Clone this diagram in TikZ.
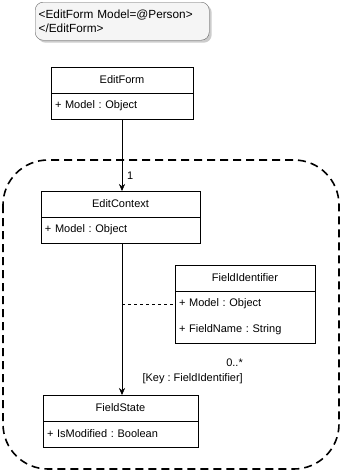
\documentclass[tikz,border=0pt]{standalone}
\usepackage{fontspec}
\setmainfont{Liberation Sans}
\usetikzlibrary{arrows.meta,positioning,shadows}
\definecolor{notefill}{HTML}{F5F5F5}
\definecolor{notedraw}{HTML}{666666}
\frenchspacing

\begin{document}
\begin{tikzpicture}[x=1pt,y=-1pt,>={Stealth[length=7pt,width=6pt]},font=\fontsize{11}{13}\selectfont,
 note/.style={draw=notedraw,fill=notefill,rounded corners=8pt,minimum width=174pt,minimum height=38pt,text width=167pt,inner xsep=3.5pt,align=left,anchor=north west,font=\fontsize{11.8}{14}\selectfont,drop shadow={shadow xshift=2.5pt,shadow yshift=-2.5pt,fill=black!40}},
 classhead/.style={draw,fill=white,minimum height=26pt,inner sep=0pt,outer sep=0pt,anchor=north west},
 classrow/.style={minimum height=26pt,inner xsep=4pt,inner ysep=0pt,outer sep=0pt,align=left},
 scopebox/.style={line width=1.6pt,dash pattern=on 8pt off 5pt,rounded corners=45pt},
 lbl/.style={inner sep=0pt,font=\fontsize{11}{15}\selectfont}]
\useasboundingbox (0,0) rectangle (342,472);
% razor markup
\node[note](markup) at (35,2) {<EditForm Model=@Person>\\</EditForm>};
% scope of the edit context
\draw[scopebox] (3,160) rectangle (339,469);
% classes
\node[classhead,minimum width=142pt](formhead) at (51,67) {EditForm};
\node[classrow,draw,text width=134pt,below=0pt of formhead](formbody) {+ Model : Object};
\node[classhead,minimum width=159pt](ctxhead) at (41,191) {EditContext};
\node[classrow,draw,text width=151pt,below=0pt of ctxhead](ctxbody) {+ Model : Object};
\node[classhead,minimum width=140pt](fidhead) at (175,265) {FieldIdentifier};
\node[classrow,text width=132pt,below=0pt of fidhead](fidmodel) {+ Model : Object};
\node[classrow,text width=132pt,below=0pt of fidmodel](fidname) {+ FieldName : String};
\draw (fidhead.south west) rectangle (fidname.south east);
\node[classhead,minimum width=155pt](statehead) at (43,395) {FieldState};
\node[classrow,draw,text width=147pt,below=0pt of statehead](statebody) {+ IsModified : Boolean};
% connectors
\coordinate (tap) at (formbody.south |- fidmodel.west);
\draw[->](formbody.south)--(formbody.south |- ctxhead.north);
\draw[->](formbody.south |- ctxbody.south)--(formbody.south |- statehead.north);
\draw[dash pattern=on 3pt off 3pt](tap)--(fidmodel.west);
\node[lbl,anchor=west](one) at (127,176) {1};
\node[lbl,align=right,anchor=east](keylbl) at (243,371) {0..*\\{}[Key : FieldIdentifier]};
\end{tikzpicture}
\end{document}
